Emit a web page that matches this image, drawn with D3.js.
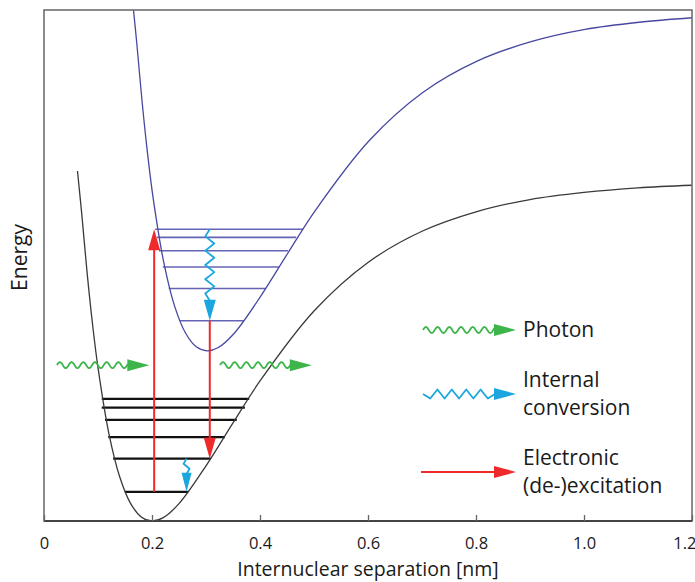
<!DOCTYPE html>
<html>
<head>
<meta charset="utf-8">
<script src="https://cdn.jsdelivr.net/npm/d3@7"></script>
<style>
  body { margin: 0; background: #fff; }
  text { font-family: "Open Sans", sans-serif; fill: #1a1a1a; }
</style>
</head>
<body>
<svg width="695" height="582"></svg>
<script>
// ground state potential: [r (nm), energy (a.u.)]
var groundCurve = [
  [0.062, 6.85], [0.07, 6.00], [0.08, 4.84], [0.09, 3.84], [0.10, 3.00],
  [0.12, 1.72], [0.14, 0.87], [0.16, 0.35], [0.18, 0.08], [0.20, 0.00],
  [0.22, 0.06], [0.25, 0.34], [0.30, 1.08], [0.35, 1.92], [0.40, 2.74],
  [0.50, 4.11], [0.60, 5.06], [0.70, 5.67], [0.80, 6.05], [0.90, 6.29],
  [1.00, 6.43], [1.10, 6.52], [1.20, 6.57]
];
// excited state potential
var excitedCurve = [
  [0.164, 10.18], [0.172, 9.33], [0.182, 8.17], [0.192, 7.17], [0.202, 6.33],
  [0.222, 5.05], [0.242, 4.20], [0.262, 3.68], [0.282, 3.41], [0.302, 3.33],
  [0.322, 3.39], [0.352, 3.67], [0.402, 4.41], [0.452, 5.25], [0.502, 6.07],
  [0.602, 7.44], [0.702, 8.39], [0.802, 9.00], [0.902, 9.38], [1.002, 9.62],
  [1.102, 9.76], [1.202, 9.85]
];
// vibrational levels: [energy, r left, r right]
var groundLevels = [
  [2.39, 0.107, 0.380], [2.22, 0.107, 0.372], [1.98, 0.113, 0.357],
  [1.64, 0.119, 0.335], [1.22, 0.128, 0.309], [0.57, 0.150, 0.267]
];
var excitedLevels = [
  [5.71, 0.206, 0.480], [5.55, 0.209, 0.467], [5.29, 0.213, 0.452],
  [4.97, 0.220, 0.435], [4.55, 0.231, 0.411], [3.92, 0.252, 0.370]
];
// vertical transitions: [r, energy from, energy to, kind]
var transitions = [
  [0.204, 0.57, 5.71, "electronic"],
  [0.307, 5.71, 3.92, "internal"],
  [0.307, 3.92, 1.22, "electronic"],
  [0.264, 1.22, 0.57, "internal"]
];
// photons: [r from, r to, energy]
var photons = [
  [0.024, 0.195, 3.05],
  [0.326, 0.496, 3.05]
];
var xTicks = [0, 0.2, 0.4, 0.6, 0.8, 1.0, 1.2];
var legendItems = [
  ["photon", ["Photon"]],
  ["internal", ["Internal", "conversion"]],
  ["electronic", ["Electronic", "(de-)excitation"]]
];

var colors = {photon: "#3db54a", internal: "#1ba6de", electronic: "#ee2a2a"};

var svg = d3.select("svg"),
    margin = {top: 10, right: 3, bottom: 61, left: 44},
    width = svg.attr("width") - margin.left - margin.right,
    height = svg.attr("height") - margin.top - margin.bottom;

var x = d3.scaleLinear().domain([0, 1.2]).range([0, width]),
    y = d3.scaleLinear().domain([0, 10]).range([height, 0]);

var g = svg.append("g")
    .attr("transform", "translate(" + margin.left + "," + margin.top + ")");

g.append("clipPath").attr("id", "plot")
  .append("rect").attr("width", width).attr("height", height);

var line = d3.line()
    .x(function(d) { return x(d[0]); })
    .y(function(d) { return y(d[1]); })
    .curve(d3.curveCatmullRom);

// wave / zigzag path along a straight segment
function wavy(x0, y0, x1, y1, amp, period, zig) {
  var dx = x1 - x0, dy = y1 - y0, len = Math.sqrt(dx * dx + dy * dy);
  var ux = dx / len, uy = dy / len, nx = -uy, ny = ux;
  var pts = [];
  if (zig) {
    var n = Math.round(len / (period / 2));
    for (var i = 0; i <= n; i++) {
      var t = i * len / n, o = (i === 0 || i === n) ? 0 : (i % 2 ? amp : -amp);
      pts.push([x0 + ux * t + nx * o, y0 + uy * t + ny * o]);
    }
  } else {
    for (var t = 0; t <= len; t += 0.5) {
      var o = -amp * Math.sin(2 * Math.PI * t / period);
      pts.push([x0 + ux * t + nx * o, y0 + uy * t + ny * o]);
    }
  }
  return d3.line()(pts);
}

function head(sel, x1, y1, ux, uy, len, w, color) {
  var bx = x1 - ux * len, by = y1 - uy * len;
  sel.append("path")
    .attr("d", "M" + x1 + "," + y1 + "L" + (bx - uy * w / 2) + "," + (by + ux * w / 2) +
               "L" + (bx + uy * w / 2) + "," + (by - ux * w / 2) + "Z")
    .attr("fill", color);
}

// arrow of a given kind, from (x0,y0) to tip (x1,y1)
function arrow(sel, kind, x0, y0, x1, y1, hl, hw) {
  var dx = x1 - x0, dy = y1 - y0, len = Math.sqrt(dx * dx + dy * dy);
  var ux = dx / len, uy = dy / len;
  var bx = x1 - ux * (hl - 1), by = y1 - uy * (hl - 1);
  var c = colors[kind];
  var d;
  if (kind === "photon") d = wavy(x0, y0, bx, by, 3, 11.7, false);
  else if (kind === "internal") d = wavy(x0, y0, bx, by, len > 60 ? 4.5 : 3, len > 60 ? 15 : 12, true);
  else d = "M" + x0 + "," + y0 + "L" + bx + "," + by;
  sel.append("path").attr("d", d).attr("fill", "none")
    .attr("stroke", c).attr("stroke-width", kind === "electronic" ? 2 : 1.8)
    .attr("stroke-linejoin", "round");
  head(sel, x1, y1, ux, uy, hl, hw, c);
}

var plot = g.append("g").attr("clip-path", "url(#plot)");

// excited levels and curve
plot.selectAll(".elevel").data(excitedLevels).enter().append("line")
    .attr("x1", function(d) { return x(d[1]); })
    .attr("x2", function(d) { return x(d[2]); })
    .attr("y1", function(d) { return y(d[0]); })
    .attr("y2", function(d) { return y(d[0]); })
    .attr("stroke", "#6464b4").attr("stroke-width", 1.6);

plot.append("path").datum(excitedCurve).attr("d", line)
    .attr("fill", "none").attr("stroke", "#4848a2").attr("stroke-width", 1.3);

// ground levels and curve
plot.selectAll(".glevel").data(groundLevels).enter().append("line")
    .attr("x1", function(d) { return x(d[1]); })
    .attr("x2", function(d) { return x(d[2]); })
    .attr("y1", function(d) { return y(d[0]); })
    .attr("y2", function(d) { return y(d[0]); })
    .attr("stroke", "#111").attr("stroke-width", 2.2);

plot.append("path").datum(groundCurve).attr("d", line)
    .attr("fill", "none").attr("stroke", "#3a3a3a").attr("stroke-width", 1.3);

transitions.forEach(function(d) {
  var small = Math.abs(y(d[1]) - y(d[2])) < 50;
  arrow(plot, d[3], x(d[0]), y(d[1]), x(d[0]), y(d[2]), small ? 19 : 21, small ? 10 : 12);
});

photons.forEach(function(d) {
  arrow(plot, "photon", x(d[0]), y(d[2]), x(d[1]), y(d[2]), 22, 12);
});

// frame
g.append("rect").attr("width", width).attr("height", height)
    .attr("fill", "none").attr("stroke", "#6e6e6e").attr("stroke-width", 1.6);
g.append("line").attr("x1", 0).attr("x2", width).attr("y1", height).attr("y2", height)
    .attr("stroke", "#444").attr("stroke-width", 1.8);

var xAxis = g.append("g")
    .attr("transform", "translate(0," + height + ")")
    .call(d3.axisBottom(x).tickValues(xTicks).tickSizeInner(-6).tickSizeOuter(0).tickPadding(16)
      .tickFormat(function(d) { return d === 0 ? "0" : d3.format(".1f")(d); }));
xAxis.select(".domain").remove();
xAxis.selectAll(".tick line").attr("stroke", "#666").attr("stroke-width", 1.3);
xAxis.selectAll(".tick text")
    .style("font-size", "16.5px").style("font-family", "'Open Sans', sans-serif")
    .attr("fill", "#1a1a1a")
    .attr("text-anchor", function(d, i) { return i === xTicks.length - 1 ? "end" : "middle"; })
    .attr("x", function(d, i) { return i === xTicks.length - 1 ? 4 : 0; });

g.append("text")
    .attr("x", width / 2).attr("y", height + 55)
    .attr("text-anchor", "middle")
    .style("font-size", "19.5px")
    .text("Internuclear separation [nm]");

g.append("text")
    .attr("transform", "rotate(-90)")
    .attr("x", -(height / 2) + 8).attr("y", -17)
    .attr("text-anchor", "middle")
    .style("font-size", "21px")
    .text("Energy");

// legend
var legend = svg.append("g").attr("transform", "translate(422,330)");
var rowY = [0, 64, 142];
legendItems.forEach(function(item, i) {
  var row = legend.append("g").attr("transform", "translate(0," + rowY[i] + ")");
  var x0 = item[0] === "electronic" ? -1 : 1;
  arrow(row, item[0], x0, 0, 94, 0, 22, 12);
  var lines = item[1];
  var top = lines.length === 1 ? 7 : -7;
  lines.forEach(function(t, j) {
    row.append("text")
      .attr("x", 101).attr("y", top + j * 28)
      .style("font-size", "21px")
      .text(t);
  });
});
</script>
</body>
</html>
